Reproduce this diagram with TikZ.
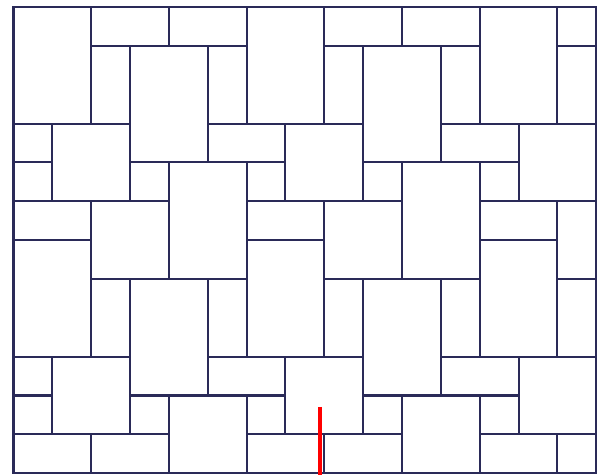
\documentclass[tikz,border=0pt]{standalone}
\usepackage{tikz}
\usetikzlibrary{calc}
\definecolor{tileline}{RGB}{42,42,88}
\tikzset{joint/.style={line width=1.5pt, tileline}, marker/.style={line width=2.3pt, red}}

\begin{document}
\begin{tikzpicture}[x=1cm, y=-1cm]
% Page margins
\useasboundingbox (-0.3475,-0.18) rectangle (15.1735,12.047);
% Joints of the tiling, one 6x6 block repeated
\begin{scope}
\clip (0,0) rectangle (15,12);
\foreach \a in {-6,0,6,12} {
  \foreach \b in {0,6} {
    % vertical joints
    \draw[joint] (\a,\b) -- (\a,\b+3) (\a,\b+4) -- (\a,\b+6);
    \draw[joint] (\a+1,\b+3) -- (\a+1,\b+5);
    \draw[joint] (\a+2,\b) -- (\a+2,\b+3) (\a+2,\b+5) -- (\a+2,\b+6);
    \draw[joint] (\a+3,\b+1) -- (\a+3,\b+5);
    \draw[joint] (\a+4,\b) -- (\a+4,\b+1) (\a+4,\b+4) -- (\a+4,\b+6);
    \draw[joint] (\a+5,\b+1) -- (\a+5,\b+4);
    % horizontal joints
    \draw[joint] (\a,\b) -- (\a+2,\b);
    \draw[joint] (\a+2,\b+1) -- (\a+6,\b+1);
    \draw[joint] (\a+5,\b+3) -- (\a+9,\b+3);
    \draw[joint] (\a+3,\b+4) -- (\a+7,\b+4);
    \draw[joint] (\a,\b+5) -- (\a+4,\b+5);
  }
}
\end{scope}
% Frame
\draw[joint] (0,0) rectangle (15,12);
% Cut mark
\coordinate (cuttop) at (7.889,10.296);
\coordinate (cutbot) at (7.889,12.047);
\draw[marker] (cuttop) -- (cutbot);
\end{tikzpicture}
\end{document}
